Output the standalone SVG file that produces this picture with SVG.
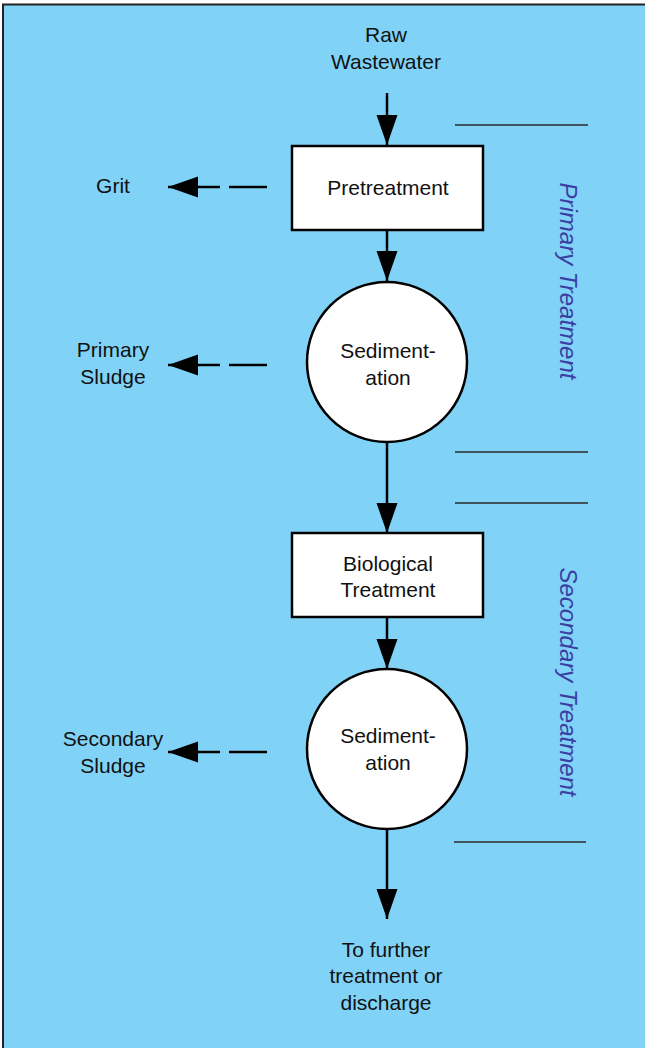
<svg xmlns="http://www.w3.org/2000/svg" width="645" height="1048" viewBox="0 0 645 1048">
<style>
.t{font-family:"Liberation Sans",Arial,sans-serif;font-size:21px;fill:#111;text-anchor:middle}
.side{font-family:"Liberation Sans",Arial,sans-serif;font-size:24px;font-style:italic;fill:#3b3fa3;text-anchor:middle}
.node{fill:#fff;stroke:#000;stroke-width:2.5}
.con{stroke:#000;stroke-width:2.5;fill:none}
.sep{stroke:#2a2a2a;stroke-width:1.3}
</style>
<defs>
<marker id="ah" markerUnits="userSpaceOnUse" markerWidth="31" markerHeight="22" refX="30" refY="10.5" orient="auto">
<path d="M0,0 L30,10.5 L0,21 Z" fill="#000"/>
</marker>
</defs>
<rect x="0" y="0" width="645" height="1048" fill="#fff"/>
<rect x="3" y="4.5" width="700" height="1100" fill="#80D3F7" stroke="#222" stroke-width="2"/>

<g id="separators">
<line class="sep" x1="455" y1="125" x2="588" y2="125"/>
<line class="sep" x1="455" y1="452" x2="588" y2="452"/>
<line class="sep" x1="455" y1="503" x2="588" y2="503"/>
<line class="sep" x1="454" y1="842" x2="586" y2="842"/>
</g>

<g id="connectors">
<line class="con" x1="387" y1="93" x2="387" y2="145" marker-end="url(#ah)"/>
<line class="con" x1="387" y1="230" x2="387" y2="281" marker-end="url(#ah)"/>
<line class="con" x1="387" y1="443" x2="387" y2="533" marker-end="url(#ah)"/>
<line class="con" x1="387" y1="618" x2="387" y2="669" marker-end="url(#ah)"/>
<line class="con" x1="387" y1="829" x2="387" y2="919" marker-end="url(#ah)"/>
<line class="con" x1="267" y1="187" x2="229" y2="187"/>
<line class="con" x1="220" y1="187" x2="168" y2="187" marker-end="url(#ah)"/>
<line class="con" x1="267" y1="365" x2="229" y2="365"/>
<line class="con" x1="220" y1="365" x2="168" y2="365" marker-end="url(#ah)"/>
<line class="con" x1="267" y1="752" x2="229" y2="752"/>
<line class="con" x1="220" y1="752" x2="168" y2="752" marker-end="url(#ah)"/>
</g>

<g id="raw">
<text class="t" x="386" y="41.5">Raw</text>
<text class="t" x="386" y="68.5">Wastewater</text>
</g>
<g id="grit">
<text class="t" x="113" y="192.5">Grit</text>
</g>
<g id="pretreatment">
<rect class="node" x="292" y="146" width="191" height="84"/>
<text class="t" x="388" y="195">Pretreatment</text>
</g>
<g id="primary-sludge">
<text class="t" x="113" y="357">Primary</text>
<text class="t" x="113" y="384">Sludge</text>
</g>
<g id="sedimentation1">
<circle class="node" cx="387" cy="362" r="80"/>
<text class="t" x="388" y="358">Sediment-</text>
<text class="t" x="388" y="385">ation</text>
</g>
<g id="biological">
<rect class="node" x="292" y="533" width="191" height="84"/>
<text class="t" x="388" y="570.5">Biological</text>
<text class="t" x="388" y="597">Treatment</text>
</g>
<g id="sedimentation2">
<circle class="node" cx="387" cy="749" r="80"/>
<text class="t" x="388" y="743">Sediment-</text>
<text class="t" x="388" y="770">ation</text>
</g>
<g id="secondary-sludge">
<text class="t" x="113" y="745.5">Secondary</text>
<text class="t" x="113" y="772.5">Sludge</text>
</g>
<g id="output">
<text class="t" x="386" y="956.5">To further</text>
<text class="t" x="386" y="983">treatment or</text>
<text class="t" x="386" y="1010">discharge</text>
</g>
<g id="primary-treatment">
<text class="side" transform="rotate(90 560 281)" x="560" y="281">Primary Treatment</text>
</g>
<g id="secondary-treatment">
<text class="side" transform="rotate(90 560 682)" x="560" y="682">Secondary Treatment</text>
</g>
</svg>
